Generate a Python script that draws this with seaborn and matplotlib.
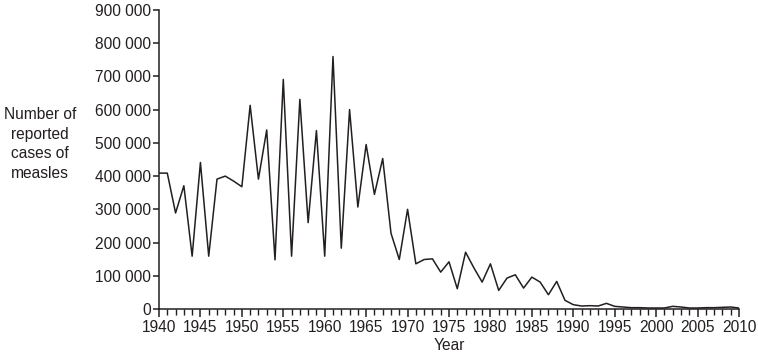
import matplotlib
matplotlib.use("Agg")
import matplotlib.pyplot as plt
import matplotlib.ticker as mticker
import seaborn as sns
import pandas as pd

# reported measles cases per year
years = list(range(1940, 2011))
cases = [
    409000, 409000, 289000, 371000, 159000, 441000, 159000, 391000, 400000, 385000,
    368000, 613000, 391000, 539000, 148000, 691000, 159000, 631000, 260000, 537000,
    159000, 760000, 183000, 600000, 307000, 495000, 345000, 453000, 228000, 149000,
    300000, 136000, 149000, 151000, 111000, 142000, 61000, 171000, 124000, 81000,
    136000, 56000, 93000, 103000, 63000, 96000, 81000, 43000, 83000, 26000,
    13000, 9000, 10000, 9000, 17000, 8000, 6000, 4000, 4000, 3000,
    3000, 3000, 8000, 6000, 3000, 3000, 4000, 4000, 5000, 6000,
    3000,
]
df = pd.DataFrame({"year": years, "cases": cases})

sns.set_theme(style="ticks")
plt.rcParams["font.family"] = ["Liberation Sans", "DejaVu Sans"]

fig = plt.figure(figsize=(7.58, 3.54), dpi=100)
ax = fig.add_axes([159 / 758, 45 / 354, 580 / 758, 299 / 354])

sns.lineplot(data=df, x="year", y="cases", ax=ax, color="#231f20", linewidth=1.1)

ax.set_xlim(1940, 2010)
ax.set_ylim(0, 900000)
ax.xaxis.set_major_locator(mticker.MultipleLocator(5))
ax.xaxis.set_minor_locator(mticker.MultipleLocator(1))
ax.yaxis.set_major_locator(mticker.MultipleLocator(100000))
ax.yaxis.set_major_formatter(
    mticker.FuncFormatter(lambda v, p: f"{int(v):,}".replace(",", " ") if v else "0"))

sns.despine(ax=ax)
for s in ("left", "bottom"):
    ax.spines[s].set_linewidth(1.1)
    ax.spines[s].set_color("#231f20")
ax.tick_params(axis="x", which="major", length=5.8, width=1.1, color="#231f20",
               labelsize=11.2, pad=2, labelcolor="#231f20")
ax.tick_params(axis="x", which="minor", length=4, width=1.0, color="#231f20")
ax.tick_params(axis="y", which="major", length=4, width=1.1, color="#231f20",
               labelsize=11.2, pad=2, labelcolor="#231f20")

ax.set_xlabel("Year", fontsize=11.2, color="#231f20", labelpad=2.5)
ax.set_ylabel("")
fig.text(40 / 758, 1 - 144 / 354, "Number of\nreported\ncases of\nmeasles",
         ha="center", va="center", fontsize=11.2, color="#231f20", linespacing=1.38)

fig.savefig("out.png", dpi=100)
